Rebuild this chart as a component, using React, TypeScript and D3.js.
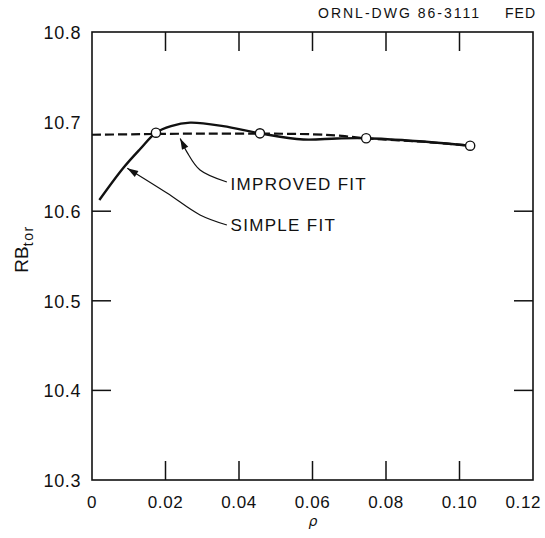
import React from "react";
import * as d3 from "d3";

// ---- data ----
const xTicks = [0, 0.02, 0.04, 0.06, 0.08, 0.1, 0.12];
const xTickLabels = ["0", "0.02", "0.04", "0.06", "0.08", "0.10", "0.12"];
const yTicks = [10.3, 10.4, 10.5, 10.6, 10.7, 10.8];
const yTickLabels = ["10.3", "10.4", "10.5", "10.6", "10.7", "10.8"];
const innerYTicks = [10.4, 10.5, 10.6];
const innerXTicks = [0.02, 0.04, 0.06, 0.08, 0.1];

const simpleX = [0.002, 0.0085, 0.0131, 0.0174, 0.0215, 0.0267, 0.0357, 0.0457, 0.0575, 0.0666, 0.0746, 0.089, 0.1029];
const simpleY = [10.6125, 10.6482, 10.6694, 10.6876, 10.695, 10.6988, 10.695, 10.6869, 10.68, 10.6812, 10.6814, 10.678, 10.6731];

const improvedX = [0, 0.01, 0.0174, 0.03, 0.0457, 0.06, 0.068, 0.0746, 0.09, 0.1029];
const improvedY = [10.6853, 10.6858, 10.6862, 10.6866, 10.6866, 10.6858, 10.684, 10.6814, 10.6775, 10.6731];

const pointX = [0.0174, 0.0457, 0.0746, 0.1029];
const pointY = [10.6876, 10.6869, 10.6814, 10.6731];

const improvedLeaderX = [0.0367, 0.0294, 0.02585, 0.024];
const improvedLeaderY = [10.6326, 10.646, 10.666, 10.6812];
const simpleLeaderX = [0.0367, 0.0294, 0.0204, 0.0096];
const simpleLeaderY = [10.5846, 10.5958, 10.6203, 10.648];

const labelImproved = { text: "IMPROVED FIT", x: 0.0377, y: 10.6235 };
const labelSimple = { text: "SIMPLE FIT", x: 0.0377, y: 10.5775 };

const W = 545;
const H = 538;
const M = { left: 92, right: 533, top: 32, bottom: 480 };

export default function App() {
  const x = d3.scaleLinear().domain([0, 0.12]).range([M.left, M.right]);
  const y = d3.scaleLinear().domain([10.3, 10.8]).range([M.bottom, M.top]);

  const line = d3
    .line<[number, number]>()
    .x((d) => x(d[0]))
    .y((d) => y(d[1]))
    .curve(d3.curveCatmullRom.alpha(0.5));

  const simplePts = simpleX.map((v, i) => [v, simpleY[i]] as [number, number]);
  const improvedPts = improvedX.map((v, i) => [v, improvedY[i]] as [number, number]);
  const impLeader = improvedLeaderX.map((v, i) => [v, improvedLeaderY[i]] as [number, number]);
  const simLeader = simpleLeaderX.map((v, i) => [v, simpleLeaderY[i]] as [number, number]);

  const arrowHead = (pts: [number, number][]) => {
    const n = pts.length;
    const tx = x(pts[n - 1][0]);
    const ty = y(pts[n - 1][1]);
    const px = x(pts[n - 2][0]);
    const py = y(pts[n - 2][1]);
    const a = Math.atan2(ty - py, tx - px);
    const L = 11;
    const Wd = 3.5;
    const bx = tx - L * Math.cos(a);
    const by = ty - L * Math.sin(a);
    const p1 = [bx + Wd * Math.sin(a), by - Wd * Math.cos(a)];
    const p2 = [bx - Wd * Math.sin(a), by + Wd * Math.cos(a)];
    return `M${tx},${ty}L${p1[0]},${p1[1]}L${p2[0]},${p2[1]}Z`;
  };

  const font = "'Liberation Sans', Arial, sans-serif";
  const tickLen = 19;
  const lastX = xTicks.length - 1;

  return (
    <svg
      width={W}
      height={H}
      style={{ position: "absolute", left: 0, top: 0, background: "#fff" }}
      fontFamily={font}
    >
      <rect x={0} y={0} width={W} height={H} fill="#fff" />
      {/* header */}
      <text x={318} y={18} fontSize={14} letterSpacing={2} fill="#111">
        ORNL-DWG 86-3111
      </text>
      <text x={536} y={18} fontSize={14} letterSpacing={1} textAnchor="end" fill="#111">
        FED
      </text>

      {/* frame */}
      <rect
        x={M.left}
        y={M.top}
        width={M.right - M.left}
        height={M.bottom - M.top}
        fill="none"
        stroke="#111"
        strokeWidth={1.6}
      />

      {/* ticks */}
      {innerXTicks.map((t) => (
        <g key={"xt" + t}>
          <line x1={x(t)} x2={x(t)} y1={M.bottom} y2={M.bottom - tickLen} stroke="#111" strokeWidth={1.5} />
          <line x1={x(t)} x2={x(t)} y1={M.top} y2={M.top + tickLen} stroke="#111" strokeWidth={1.5} />
        </g>
      ))}
      {innerYTicks.map((t) => (
        <g key={"yt" + t}>
          <line x1={M.left} x2={M.left + tickLen} y1={y(t)} y2={y(t)} stroke="#111" strokeWidth={1.5} />
          <line x1={M.right} x2={M.right - tickLen} y1={y(t)} y2={y(t)} stroke="#111" strokeWidth={1.5} />
        </g>
      ))}

      {/* tick labels */}
      {xTicks.map((t, i) => (
        <text
          key={"xl" + t}
          x={i === lastX ? W - 4 : x(t)}
          y={508}
          fontSize={17}
          letterSpacing={0.6}
          textAnchor={i === lastX ? "end" : "middle"}
          fill="#111"
        >
          {xTickLabels[i]}
        </text>
      ))}
      {yTicks.map((t, i) => (
        <text
          key={"yl" + t}
          x={81}
          y={y(t) + 7}
          fontSize={18}
          letterSpacing={0.6}
          textAnchor="end"
          fill="#111"
        >
          {yTickLabels[i]}
        </text>
      ))}

      {/* axis titles */}
      <text
        transform="translate(28,249) rotate(-90)"
        fontSize={19}
        textAnchor="middle"
        fill="#111"
      >
        RB
        <tspan fontSize={14} dy={5} letterSpacing={1.5}>
          tor
        </tspan>
      </text>
      <text
        x={313}
        y={526}
        fontSize={14}
        fontStyle="italic"
        textAnchor="middle"
        fontFamily="'DejaVu Sans', sans-serif"
        fill="#111"
      >
        ρ
      </text>

      {/* curves */}
      <path d={line(improvedPts) || ""} fill="none" stroke="#111" strokeWidth={2.2} strokeDasharray="9,4" />
      <path d={line(simplePts) || ""} fill="none" stroke="#111" strokeWidth={2.4} />

      {pointX.map((v, i) => (
        <circle key={"pt" + i} cx={x(v)} cy={y(pointY[i])} r={4.6} fill="#fff" stroke="#111" strokeWidth={1.4} />
      ))}

      {/* annotations */}
      <path d={line(impLeader) || ""} fill="none" stroke="#111" strokeWidth={1.2} />
      <path d={arrowHead(impLeader)} fill="#111" />
      <path d={line(simLeader) || ""} fill="none" stroke="#111" strokeWidth={1.2} />
      <path d={arrowHead(simLeader)} fill="#111" />
      <text x={x(labelImproved.x)} y={y(labelImproved.y)} fontSize={17} letterSpacing={1.3} fill="#111">
        {labelImproved.text}
      </text>
      <text x={x(labelSimple.x)} y={y(labelSimple.y)} fontSize={17} letterSpacing={1.3} fill="#111">
        {labelSimple.text}
      </text>
    </svg>
  );
}
